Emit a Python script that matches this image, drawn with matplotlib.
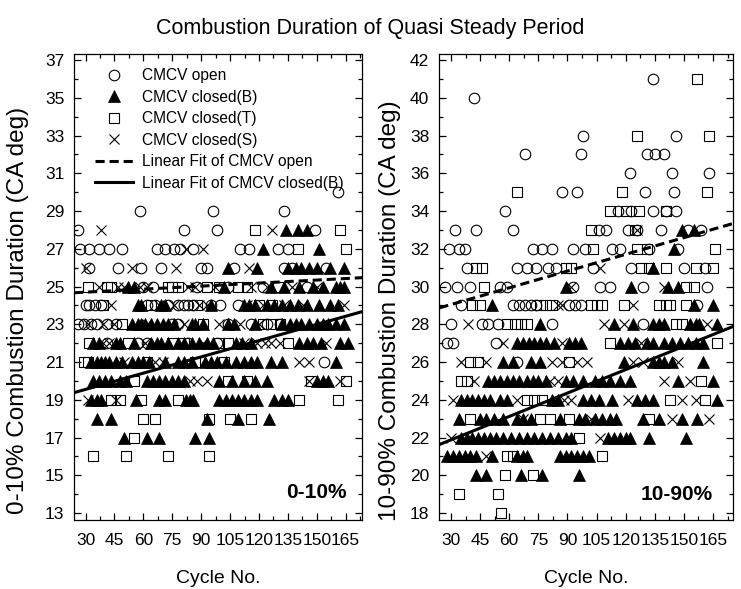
import matplotlib
matplotlib.use("Agg")
import matplotlib.pyplot as plt
from matplotlib.ticker import MultipleLocator
from matplotlib.legend_handler import HandlerLine2D

plt.rcParams['font.family'] = ['Liberation Sans', 'DejaVu Sans']

# values: {duration (CA deg): [cycle numbers]}
open_010 = {
    30: [161],
    29: [58, 96, 133],
    28: [26, 81, 98, 149],
    27: [27, 32, 37, 42, 49, 67, 71, 76, 79, 86, 110, 115, 130, 135],
    26: [32, 47, 59, 69, 90, 93, 107, 133, 137, 155],
    25: [60, 65, 88, 104, 122, 145],
    24: [30, 32, 35, 38, 62, 66, 73, 78, 81, 83, 86, 95, 100, 109],
    23: [26, 29, 33, 36, 41, 46, 75, 78, 104, 116, 124, 131],
    22: [41, 57, 62, 83, 98],
    21: [154],
}
closedB_010 = {
    28: [134, 140, 145],
    27: [122, 151],
    26: [104, 119, 135, 139, 142, 146, 150, 157, 164],
    25: [52, 55, 102, 126, 133, 141, 148, 153, 160, 162, 164],
    24: [57, 59, 69, 71, 95, 112, 115, 118, 124, 128, 132, 136, 140, 145, 151, 157, 161],
    23: [54, 57, 59, 61, 64, 67, 70, 73, 76, 85, 87, 91, 104, 107, 118, 132, 136, 139,
         142, 146, 150, 153, 156, 160, 164],
    22: [34, 37, 46, 48, 55, 64, 67, 69, 73, 78, 81, 85, 89, 93, 96, 108, 111, 116, 141,
         145, 148, 152, 162, 166],
    21: [33, 36, 38, 40, 42, 46, 49, 54, 57, 60, 63, 71, 78, 81, 85, 92, 95, 98, 103, 108,
         112, 116, 119, 126, 132, 160],
    20: [34, 37, 40, 43, 48, 51, 62, 65, 68, 71, 75, 78, 81, 99, 106, 112, 118, 124, 150,
         153, 156],
    19: [33, 36, 38, 56, 68, 71, 82, 84, 86, 99, 103, 106, 109, 112, 116, 119, 128, 132, 135],
    18: [36, 43, 93, 109, 125],
    17: [50, 62, 68, 87, 94],
}
closedT_010 = {
    28: [118, 162],
    27: [140, 165],
    25: [31, 41, 43, 73, 75, 78, 93, 99, 109, 114, 130],
    24: [39, 64, 88, 120, 127],
    23: [49, 91, 122, 126, 131],
    22: [32, 52, 75, 81, 99, 104, 135],
    21: [29, 31, 62, 87, 102],
    20: [55, 104, 114, 147, 165],
    19: [43, 48, 59, 78, 141, 161],
    18: [60, 66, 94, 105, 116],
    17: [55],
    16: [34, 51, 73, 94],
}
closedS_010 = {
    28: [38, 127],
    27: [82, 91],
    26: [30, 54, 77, 115],
    25: [37, 47, 50, 58, 62, 83, 87, 97, 116, 124, 137, 150],
    24: [43, 68, 76, 89, 93, 114, 122, 133, 143, 164],
    23: [31, 39, 45, 62, 81, 99, 110, 120],
    22: [39, 42, 61, 91, 112, 119, 123, 126, 131, 155],
    21: [50, 66, 70, 141, 146],
    20: [84, 88, 93, 146, 162],
    19: [31, 46],
}

open_1090 = {
    41: [134],
    40: [42],
    38: [98, 146],
    37: [68, 97, 131, 135, 140],
    36: [122, 144, 163],
    35: [87, 95, 130, 145],
    34: [58, 116, 123, 134, 141, 146],
    33: [32, 43, 62, 106, 110, 121, 126, 138, 152, 159],
    32: [29, 34, 37, 72, 77, 82, 93, 99, 113, 117, 132, 147],
    31: [38, 64, 69, 74, 80, 84, 103, 123, 150, 161],
    30: [27, 33, 40, 55, 59, 93, 107, 112, 129, 162],
    29: [35, 62, 65, 68, 71, 74, 91, 94, 97, 157],
    28: [30, 46, 49, 54, 82, 129],
    27: [28, 31, 53],
    26: [64],
}
closedB_1090 = {
    33: [149, 155],
    32: [145],
    31: [134],
    30: [89, 123, 142, 147],
    29: [51, 155, 165],
    28: [76, 114, 124, 134, 137, 140, 153, 156, 158, 167],
    27: [64, 67, 70, 73, 76, 79, 83, 91, 94, 97, 117, 121, 125, 131, 134, 140, 144, 148,
         152, 156, 160],
    26: [57, 62, 71, 76, 119, 134, 137, 140, 144, 160],
    25: [49, 52, 55, 59, 62, 65, 69, 72, 75, 79, 89, 93, 98, 104, 108, 112, 117, 122, 147, 165],
    24: [35, 38, 41, 44, 47, 50, 55, 59, 82, 85, 98, 102, 106, 113, 126, 130, 134, 167],
    23: [34, 45, 48, 52, 57, 64, 67, 71, 86, 96, 99, 104, 108, 112, 115, 129, 137, 149, 157],
    22: [35, 38, 41, 44, 47, 50, 53, 57, 61, 65, 69, 73, 77, 81, 85, 89, 92, 111, 114, 117,
         120, 122, 132, 151],
    21: [28, 31, 34, 37, 40, 43, 51, 64, 67, 69, 86, 89, 92, 95, 98, 101],
    20: [43, 48, 66, 77, 96],
}
closedT_1090 = {
    41: [157],
    38: [126, 163],
    35: [64, 118, 162],
    34: [112, 120, 127, 141],
    33: [102, 125],
    32: [103, 126, 131, 166],
    31: [43, 46, 89, 92, 128, 132, 141, 156, 165],
    30: [47, 151, 155],
    29: [41, 45, 76, 79, 82, 102, 105, 108, 119, 137, 141, 143, 151],
    28: [59, 63, 66, 69, 146, 149],
    27: [112, 167],
    26: [40, 44, 91],
    25: [35, 38, 159],
    24: [69, 73, 77, 143, 161],
    23: [40, 76, 81, 91, 132],
    22: [96],
    21: [59, 62, 108],
    20: [58, 72],
    19: [34, 54],
    18: [56],
}
closedS_1090 = {
    33: [126],
    31: [107],
    30: [92, 140],
    29: [85, 87, 124],
    28: [39, 109, 119, 162],
    27: [57, 87, 128],
    26: [35, 48, 82, 87, 95, 100, 124, 129, 147],
    25: [42, 81, 85, 140, 153],
    24: [31, 64, 88, 92, 121, 149, 156],
    23: [67, 102, 144, 163],
    22: [30, 107],
    21: [48],
}

# linear fits, end points
fit_open_010_x = [24, 173.5]
fit_open_010_y = [24.67, 25.47]
fit_B_010_x = [24, 173.5]
fit_B_010_y = [19.38, 23.67]
fit_open_1090_x = [24, 175]
fit_open_1090_y = [28.87, 33.33]
fit_B_1090_x = [24, 175]
fit_B_1090_y = [21.63, 27.87]


class MarkerRight(HandlerLine2D):
    # legend symbol sits in the right part of the handle box, as in the original
    def get_xdata(self, legend, xdescent, ydescent, width, height, fontsize):
        xdata = [-xdescent, -xdescent + width]
        return xdata, [-xdescent + 0.72 * width]


def points(rows):
    xs, ys = [], []
    for val, cycles in rows.items():
        for c in cycles:
            xs.append(c)
            ys.append(val)
    return xs, ys


def panel(ax, op, cb, ct, cs, fo_x, fo_y, fb_x, fb_y):
    x, y = points(op)
    h1, = ax.plot(x, y, 'o', ms=7.6, mfc='none', mec='k', mew=0.8, label='CMCV open')
    x, y = points(cb)
    h2, = ax.plot(x, y, '^', ms=8.6, mfc='k', mec='k', mew=0.5, label='CMCV closed(B)')
    x, y = points(ct)
    h3, = ax.plot(x, y, 's', ms=6.6, mfc='none', mec='k', mew=0.8, label='CMCV closed(T)')
    x, y = points(cs)
    h4, = ax.plot(x, y, 'x', ms=7.6, mec='k', mew=0.8, label='CMCV closed(S)')
    h5, = ax.plot(fo_x, fo_y, '--', color='k', lw=2.2, dashes=(3, 1.6),
                  label='Linear Fit of CMCV open')
    h6, = ax.plot(fb_x, fb_y, '-', color='k', lw=2.2, label='Linear Fit of CMCV closed(B)')
    ax.xaxis.set_major_locator(MultipleLocator(15))
    ax.xaxis.set_minor_locator(MultipleLocator(7.5))
    ax.yaxis.set_major_locator(MultipleLocator(2))
    ax.yaxis.set_minor_locator(MultipleLocator(1))
    ax.tick_params(which='both', direction='in', top=True, right=True, labelsize=12.5,
                   width=0.9)
    ax.tick_params(axis='x', pad=9)
    ax.tick_params(axis='y', pad=7)
    ax.tick_params(which='major', length=5)
    ax.tick_params(which='minor', length=3)
    for s in ax.spines.values():
        s.set_linewidth(0.9)
    ax.set_xlabel('Cycle No.', fontsize=14, labelpad=16)
    return [h1, h2, h3, h4, h5, h6]


fig = plt.figure(figsize=(7.41, 5.89), dpi=100)
ax1 = fig.add_axes([0.0999, 0.1171, 0.3887, 0.7912])
ax2 = fig.add_axes([0.5924, 0.1171, 0.3968, 0.7912])

handles = panel(ax1, open_010, closedB_010, closedT_010, closedS_010,
                fit_open_010_x, fit_open_010_y, fit_B_010_x, fit_B_010_y)
panel(ax2, open_1090, closedB_1090, closedT_1090, closedS_1090,
      fit_open_1090_x, fit_open_1090_y, fit_B_1090_x, fit_B_1090_y)

ax1.set_xlim(24, 173.5)
ax1.set_ylim(12.63, 37.32)
ax2.set_xlim(23.8, 175.3)
ax2.set_ylim(17.63, 42.32)
ax1.set_yticks(range(13, 38, 2))
ax2.set_yticks(range(18, 43, 2))

ax1.set_ylabel('0-10% Combustion Duration (CA deg)', fontsize=17.5)
ax2.set_ylabel('10-90% Combustion Duration (CA deg)', fontsize=17.5)
ax1.yaxis.set_label_coords(-0.156, 0.45)
ax2.yaxis.set_label_coords(-0.129, 0.45)

ax1.text(0.948, 0.058, '0-10%', transform=ax1.transAxes, ha='right', va='center',
         fontsize=15, fontweight='bold')
ax2.text(0.932, 0.054, '10-90%', transform=ax2.transAxes, ha='right', va='center',
         fontsize=15, fontweight='bold')

hm = {h: MarkerRight() for h in handles[:4]}
ax1.legend(handles=handles, handler_map=hm, loc='upper left', bbox_to_anchor=(0.073, 0.97),
           frameon=False, fontsize=11.2, labelspacing=0.42, handlelength=2.45,
           handletextpad=0.6, borderpad=0, borderaxespad=0)

fig.suptitle('Combustion Duration of Quasi Steady Period', fontsize=15.5, y=0.97)

fig.savefig('out.png', dpi=100)
